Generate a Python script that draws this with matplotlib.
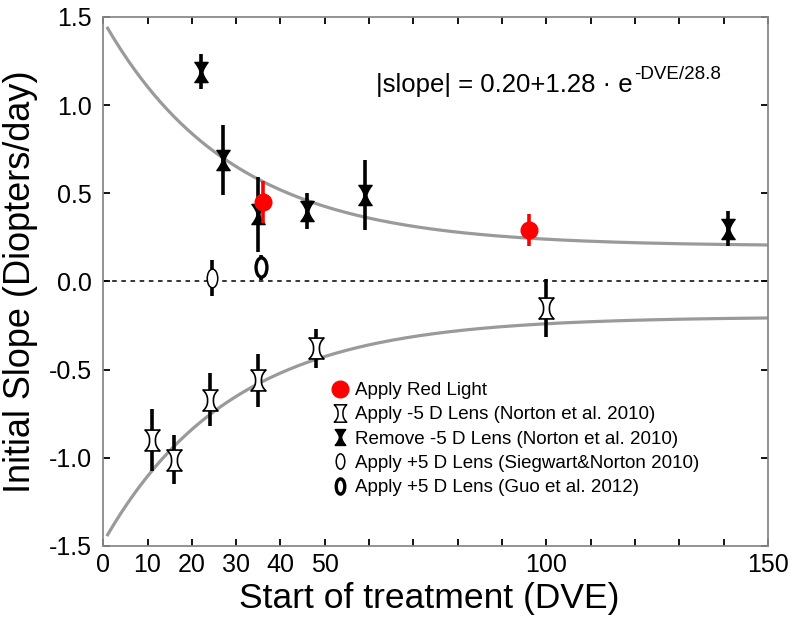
import numpy as np
import matplotlib
matplotlib.use("Agg")
import matplotlib.pyplot as plt
from matplotlib.path import Path
from matplotlib.lines import Line2D

plt.rcParams['font.family'] = ['Liberation Sans', 'DejaVu Sans']

# ---------------- data ----------------
remove_x = [22, 27, 35, 46, 59, 141]
remove_y = [1.19, 0.69, 0.38, 0.40, 0.49, 0.30]
remove_err = [0.10, 0.20, 0.21, 0.10, 0.20, 0.10]

apply_x = [11, 16, 24, 35, 48, 100]
apply_y = [-0.90, -1.01, -0.67, -0.56, -0.38, -0.15]
apply_err = [0.175, 0.14, 0.15, 0.15, 0.11, 0.165]

red_x = [36, 96]
red_y = [0.45, 0.29]
red_err = [0.12, 0.09]

sieg_x = [24.5]
sieg_y = [0.02]
sieg_err = [0.10]

guo_x = [35.5]
guo_y = [0.08]
guo_err = [0.07]

fit_a, fit_b, fit_tau = 0.20, 1.28, 28.8

xticks = list(range(0, 151, 10))
xtick_labels = ['0', '10', '20', '30', '40', '50', '', '', '', '', '100', '', '', '', '', '150']
yticks = [-1.5, -1.0, -0.5, 0.0, 0.5, 1.0, 1.5]
ytick_labels = ['-1.5', '-1.0', '-0.5', '0.0', '0.5', '1.0', '1.5']

labels = ['Apply Red Light',
          'Apply -5 D Lens (Norton et al. 2010)',
          'Remove -5 D Lens (Norton et al. 2010)',
          'Apply +5 D Lens (Siegwart&Norton 2010)',
          'Apply +5 D Lens (Guo et al. 2012)']

# ---------------- markers ----------------
def hourglass(w_end=0.5, w_mid=0.16, p=1.6, n=24):
    ys = np.linspace(1, -1, n)
    xs = w_mid + (w_end - w_mid) * np.abs(ys) ** p
    right = list(zip(xs, ys))
    left = list(zip(-xs[::-1], ys[::-1]))
    verts = right + left + [right[0]]
    codes = [Path.MOVETO] + [Path.LINETO] * (len(verts) - 2) + [Path.CLOSEPOLY]
    return Path(verts, codes)

def ellipse(sx=0.5):
    c = Path.unit_circle()
    v = c.vertices.copy()
    v[:, 0] *= sx
    return Path(v, c.codes)

hg_white = hourglass(0.72, 0.28, 2.4)
hg_black = hourglass(0.66, 0.14, 1.5)
ell = ellipse(0.56)

fig = plt.figure(figsize=(8.0, 6.29), dpi=100)
ax = fig.add_axes([0.129, 0.132, 0.831, 0.841])

# fit curves
xc = np.linspace(1, 150, 300)
yc = fit_a + fit_b * np.exp(-xc / fit_tau)
ax.plot(xc, yc, color='#9a9a9a', lw=2.3, zorder=1)
ax.plot(xc, -yc, color='#9a9a9a', lw=2.3, zorder=1)

# zero line
ax.axhline(0, color='black', lw=1.1, ls=(0, (3, 3)), zorder=1)

ekw = dict(ls='none', elinewidth=2.6, capsize=0, ecolor='black', zorder=3)

ax.errorbar(sieg_x, sieg_y, yerr=sieg_err, marker=ell, ms=13.5, mfc='white',
            mec='black', mew=1.1, **ekw)
ax.errorbar(guo_x, guo_y, yerr=guo_err, marker=ell, ms=14, mfc='white',
            mec='black', mew=2.4, **ekw)
ax.errorbar(apply_x, apply_y, yerr=apply_err, marker=hg_white, ms=15,
            mfc='white', mec='black', mew=1.2, **ekw)
ax.errorbar(remove_x, remove_y, yerr=remove_err, marker=hg_black, ms=14.5,
            mfc='black', mec='black', mew=1.0, **ekw)
ax.errorbar(red_x, red_y, yerr=red_err, marker='o', ms=12, mfc='#ff0000',
            mec='#ff0000', ls='none', elinewidth=2.6, capsize=0,
            ecolor='#ff0000', zorder=4)

# axes styling
ax.set_xlim(0, 150)
ax.set_ylim(-1.5, 1.5)
ax.set_xticks(xticks)
ax.set_xticklabels(xtick_labels)
ax.set_yticks(yticks)
ax.set_yticklabels(ytick_labels)
ax.tick_params(direction='in', length=5, width=1.3, colors='black',
               labelsize=18, top=True, right=True)
ax.tick_params(axis='y', pad=8)
ax.tick_params(axis='x', pad=5)
for s in ax.spines.values():
    s.set_color('#8a8a8a')
    s.set_linewidth(1.3)

ax.set_xlabel('Start of treatment (DVE)', fontsize=25.5, labelpad=8)
ax.xaxis.set_label_coords(0.49, -0.068, transform=ax.transAxes)
ax.xaxis.label.set_va('top')
ax.set_ylabel('Initial Slope (Diopters/day)', fontsize=26, labelpad=8)

# equation
t = ax.text(61.5, 1.075, '|slope| = 0.20+1.28 \u00b7 e', fontsize=18.5,
            ha='left', va='baseline')
ax.annotate('-DVE/28.8', xy=(1.0, 0.6), xycoords=t, fontsize=13.5,
            ha='left', va='bottom', xytext=(1, 0), textcoords='offset points')

# legend
handles = [
    Line2D([], [], ls='none', marker='o', ms=12, mfc='#ff0000', mec='#ff0000'),
    Line2D([], [], ls='none', marker=hg_white, ms=12.5, mfc='white', mec='black', mew=1.1),
    Line2D([], [], ls='none', marker=hg_black, ms=11.5, mfc='black', mec='black'),
    Line2D([], [], ls='none', marker=ell, ms=11, mfc='white', mec='black', mew=1.1),
    Line2D([], [], ls='none', marker=ell, ms=11, mfc='white', mec='black', mew=2.4),
]
ax.legend(handles, labels, loc='upper left', bbox_to_anchor=(0.343, 0.31),
          frameon=False, fontsize=13.5, handlelength=0.9, handletextpad=0.35,
          labelspacing=0.38, borderaxespad=0, borderpad=0)

fig.savefig('out.png', dpi=100)
